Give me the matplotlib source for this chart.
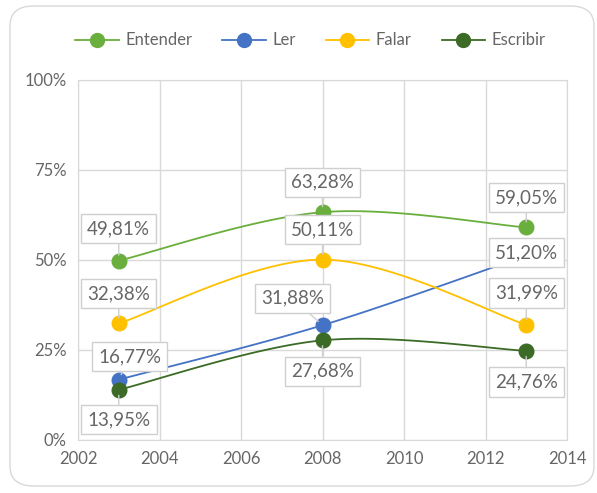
import matplotlib
matplotlib.use("Agg")
import matplotlib.pyplot as plt
from matplotlib.patches import FancyBboxPatch
import numpy as np

years = [2003, 2008, 2013]
series_names = ["Entender", "Ler", "Falar", "Escribir"]
entender = [49.81, 63.28, 59.05]
ler = [16.77, 31.88, 51.20]
falar = [32.38, 50.11, 31.99]
escribir = [13.95, 27.68, 24.76]

colors = ["#6aaf3d", "#4472c4", "#ffc000", "#3b6b26"]
# label offsets in pixels (dx, dy) from each point
offsets = [
    [(0, 32), (0, 30), (0, 30)],
    [(11, 23), (-30, 27), (0, 3)],
    [(0, 30), (0, 30), (0, 32)],
    [(0, -30), (0, -31), (0, -31)],
]

TXT = "#666666"
GRID = "#d9d9d9"
plt.rcParams['font.family'] = ['Lato', 'DejaVu Sans']


def smooth(xs, ys, n=60):
    # Excel-style smoothed line (Catmull-Rom as cubic Bezier)
    P = np.column_stack([xs, ys]).astype(float)
    ext = np.vstack([P[0], P, P[-1]])
    out = []
    t = np.linspace(0, 1, n)[:, None]
    for i in range(len(P) - 1):
        p0, p3 = P[i], P[i + 1]
        c1 = p0 + (ext[i + 2] - ext[i]) / 6
        c2 = p3 - (ext[i + 3] - ext[i + 1]) / 6
        seg = ((1 - t) ** 3) * p0 + 3 * ((1 - t) ** 2) * t * c1 + 3 * (1 - t) * t ** 2 * c2 + t ** 3 * p3
        out.append(seg)
    seg = np.vstack(out)
    return seg[:, 0], seg[:, 1]


fig = plt.figure(figsize=(5.97, 4.93), dpi=100)
fig.patches.append(FancyBboxPatch((10 / 597, 7 / 493), 584 / 597, 480 / 493,
                                  boxstyle="round,pad=0,rounding_size=0.04",
                                  transform=fig.transFigure, fc="white",
                                  ec="#d9d9d9", lw=1.0, zorder=-5))

ax = fig.add_axes([78 / 597, 53 / 493, 489 / 597, 360 / 493])
ax.set_zorder(2)
ax.set_facecolor("none")
ax.set_xlim(2002, 2014)
ax.set_ylim(0, 100)
ax.set_xticks(range(2002, 2015, 2))
ax.set_yticks([0, 25, 50, 75, 100])
ax.set_yticklabels(["0%", "25%", "50%", "75%", "100%"])
ax.grid(True, color=GRID, lw=1.0)
ax.set_axisbelow(True)
for s in ax.spines.values():
    s.set_color(GRID)
ax.tick_params(length=0, labelsize=12, colors=TXT, pad=8)

all_data = [entender, ler, falar, escribir]
for name, vals, col, offs in zip(series_names, all_data, colors, offsets):
    sx, sy = smooth(years, vals)
    ax.plot(sx, sy, color=col, lw=1.3, zorder=3)
    ax.plot(years, vals, ls="none", marker="o", ms=10.5, color=col,
            mec=col, zorder=4)
    ax.plot([], [], color=col, lw=1.3, marker="o", ms=10, label=name)
    for x, v, (dx, dy) in zip(years, vals, offs):
        txt = ("%.2f%%" % v).replace(".", ",")
        ax.annotate(txt, xy=(x, v), xytext=(dx * 0.72, dy * 0.72),
                    textcoords="offset points", ha="center", va="center",
                    fontsize=13.5, color=TXT, zorder=6,
                    bbox=dict(boxstyle="square,pad=0.33", fc="white",
                              ec="#cfcfcf", lw=1.0),
                    arrowprops=dict(arrowstyle="-", color="#cfcfcf", lw=1.0,
                                    shrinkA=0, shrinkB=4))

fig.legend(loc="center", bbox_to_anchor=(0.52, 0.918), ncol=4, frameon=False,
           fontsize=12, labelcolor=TXT, handlelength=2.6, columnspacing=1.8,
           handletextpad=0.4)

fig.savefig("out.png", dpi=100)
